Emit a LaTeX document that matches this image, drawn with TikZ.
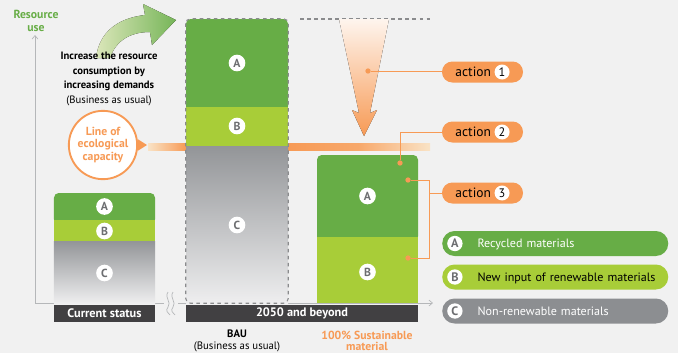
\documentclass[tikz,border=0pt]{standalone}
\usepackage{fontspec}
\setmainfont{PT Sans}
\usetikzlibrary{arrows.meta}
\definecolor{bgcol}{HTML}{F1F1F1}
\definecolor{grA}{HTML}{67AD46}
\definecolor{grB}{HTML}{A8CD38}
\definecolor{grC}{HTML}{8C8E91}
\definecolor{cdark}{HTML}{939598}
\definecolor{clight}{HTML}{EEEEEF}
\definecolor{orng}{HTML}{F79A55}
\definecolor{pale}{HTML}{F9E3C6}
\definecolor{labbar}{HTML}{414042}
\definecolor{lettgray}{HTML}{6D6E71}
\definecolor{axisgray}{HTML}{B5B7B9}
\tikzstyle{seg a}=[fill=grA, rounded corners=4pt, inner sep=0]
\tikzstyle{seg b}=[fill=grB, inner sep=0]
\tikzstyle{seg c}=[top color=cdark, bottom color=clight, inner sep=0]
\tikzstyle{letter}=[circle, fill=white, inner sep=0, minimum size=0.5cm, text=lettgray, font=\bfseries\fontsize{10}{10}\selectfont]
\tikzstyle{label bar}=[fill=labbar, text=white, font=\bfseries\fontsize{10.5}{11}\selectfont, minimum height=0.51cm, inner sep=0]
\tikzstyle{action}=[fill=orng, rounded corners=0.31cm, minimum width=2.43cm, minimum height=0.63cm, inner sep=0, font=\fontsize{11.5}{11.5}\selectfont]
\tikzstyle{legend}=[rounded corners=0.37cm, minimum height=0.75cm, text width=6.48cm, inner xsep=0.15cm, inner ysep=0, anchor=west, font=\fontsize{10.3}{11}\selectfont]
\tikzstyle{link}=[draw=orng, line width=0.6pt]
\tikzstyle{dot}=[circle, fill=orng, inner sep=0, minimum size=0.16cm]
\tikzstyle{axis}=[draw=axisgray, line width=0.6pt]
\tikzstyle{frame}=[draw=lettgray!80, dashed, line width=0.9pt, rounded corners=4pt]
\newcommand{\numcirc}[1]{\tikz[baseline=(n.base)]\node[circle, fill=white, inner sep=0, minimum size=0.45cm, font=\fontsize{10.5}{10.5}\selectfont] (n) {#1};}
\newcommand{\legcirc}[1]{\tikz[baseline=(n.base)]\node[circle, fill=white, inner sep=0, minimum size=0.46cm, text=lettgray, font=\bfseries\fontsize{10.5}{10.5}\selectfont] (n) {#1};}

\begin{document}
\begin{tikzpicture}[x=0.03cm, y=-0.03cm]
      \useasboundingbox (0,0) rectangle (678,353);
      \fill[bgcol] (0,0) rectangle (678,353);

      \coordinate (origin) at (35,303);
      \coordinate (ytop) at (35,35);
      \coordinate (xend) at (433,303);
      \draw[axis, -{Straight Barb[length=3pt,width=5pt]}] (origin) -- (ytop);
      \draw[axis, -{Straight Barb[length=3pt,width=5pt]}] (origin) -- (xend);
      \fill[bgcol] (164,299) rectangle (178,308);
      \draw[axisgray, line width=0.6pt] (168,292) .. controls (164,298) and (172,302) .. (168,307) .. controls (165,311) and (168,313) .. (170,315);
      \draw[axisgray, line width=0.6pt] (173,292) .. controls (169,298) and (177,302) .. (173,307) .. controls (170,311) and (173,313) .. (175,315);

      \node[text=grA, font=\bfseries\fontsize{10}{11}\selectfont, align=center] (yname) at (36,21) {Resource\\use};

      % line of ecological capacity
      \fill[left color=pale, right color=orng] (148,143) rectangle (186,150);
      \fill[left color=orng, right color=pale, middle color=orng!80!pale] (288,143) rectangle (430,150);
      \node[circle, draw=orng, line width=1.6pt, fill=white, minimum size=2.05cm, inner sep=0,
            text=orng, font=\bfseries\fontsize{10}{11}\selectfont, align=center] (capacity) at (103,145) {Line of\\ecological\\capacity};
      \fill[orng] (137.5,139) -- (147,145) -- (137.5,151) -- cycle;

      % growth arrow
      \fill[left color=grB!30!bgcol, right color=grA!90] (96,58) .. controls (99,32) and (118,18) .. (145,15) -- (143,4) -- (176,20) -- (152,45) -- (150,32) .. controls (131,32) and (116,40) .. (110,58) -- cycle;
      \node[align=center, font=\fontsize{9.1}{12.5}\selectfont] (increase) at (109,79) {\textbf{Increase the resource}\\\textbf{consumption by}\\\textbf{increasing demands}\\(Business as usual)};

      % current status
      \node[seg a, minimum width=3.03cm, minimum height=0.93cm] (now_a) at (104.5,208.5) {};
      \node[seg b, minimum width=3.03cm, minimum height=0.63cm] (now_b) at (104.5,230.5) {};
      \node[seg c, minimum width=3.03cm, minimum height=1.86cm] (now_c) at (104.5,272) {};
      \node[letter] (now_la) at (104.5,206.5) {A};
      \node[letter] (now_lb) at (104.5,231) {B};
      \node[letter] (now_lc) at (104.5,273) {C};
      \node[label bar, minimum width=3.03cm] (now_label) at (104.5,313.5) {Current status};

      % BAU
      \node[seg a, minimum width=3.06cm, minimum height=2.76cm] (bau_a) at (237,65) {};
      \node[seg b, minimum width=3.06cm, minimum height=1.17cm] (bau_b) at (237,126.5) {};
      \node[seg c, minimum width=3.06cm, minimum height=4.71cm] (bau_c) at (237,224.5) {};
      \node[letter] (bau_la) at (237,63) {A};
      \node[letter] (bau_lb) at (237,126) {B};
      \node[letter] (bau_lc) at (237,225) {C};
      \draw[frame] (bau_a.north west) rectangle (bau_c.south east);
      \draw[frame, rounded corners=0] (300,19) -- (430,19);

      % reduction arrow
      \fill[top color=orng!10!white, bottom color=orng] (339,19) -- (389,19) -- (370,113) -- (377,110) -- (364,136) -- (352,110) -- (359,113) -- cycle;

      % sustainable
      \node[seg a, minimum width=3.03cm, minimum height=2.58cm] (sus_a) at (367.5,198) {};
      \node[seg b, minimum width=3.03cm, minimum height=1.98cm] (sus_b) at (367.5,270) {};
      \node[letter] (sus_la) at (367.5,196) {A};
      \node[letter] (sus_lb) at (367.5,272) {B};
      \node[label bar, minimum width=6.96cm] (future_label) at (302,313.5) {2050 and beyond};

      \node[align=center, font=\fontsize{9.2}{10}\selectfont] (bau_name) at (237,341) {\textbf{BAU}\\(Business as usual)};
      \node[align=center, text=orng, font=\bfseries\fontsize{10}{10}\selectfont] (sus_name) at (367,341) {100\% Sustainable\\material};

      % actions
      \node[action] (act1) at (482.5,72) {action \numcirc{1}};
      \node[action] (act2) at (482.5,132) {action \numcirc{2}};
      \node[action] (act3) at (482.5,193) {action \numcirc{3}};
      \node[dot] (dot1) at (368,71) {};
      \node[dot] (dot2) at (400,163) {};
      \node[dot] (dot3) at (408,180) {};
      \node[dot] (dot4) at (408,258) {};
      \coordinate (join3) at (429,193);
      \draw[link] (dot1) -- (dot1 -| act1.west);
      \draw[link] (dot2) |- (act2.west);
      \draw[link] (dot3) -| (join3) -- (act3.west);
      \draw[link] (dot4) -| (join3);

      % legend
      \node[legend, fill=grA, text=white] (leg_a) at (442,243.5) {\legcirc{A}\hspace{0.45cm}Recycled materials};
      \node[legend, fill=grB, text=black] (leg_b) at (442,277) {\legcirc{B}\hspace{0.45cm}New input of renewable materials};
      \node[legend, fill=grC, text=white] (leg_c) at (442,311) {\legcirc{C}\hspace{0.45cm}Non-renewable materials};
    \end{tikzpicture}
\end{document}
